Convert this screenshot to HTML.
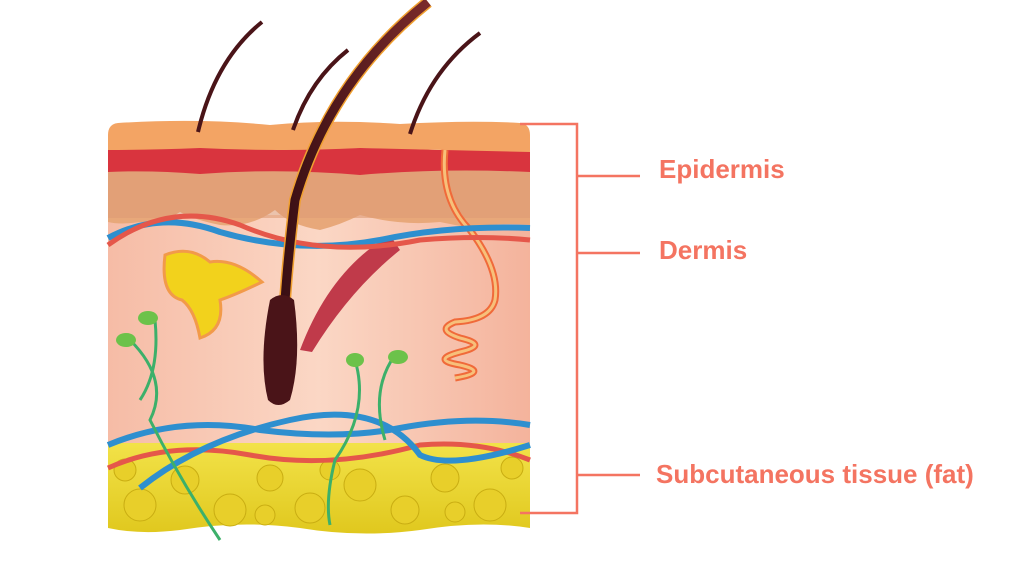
<!DOCTYPE html>
<html><head><style>
html,body{margin:0;padding:0;background:#fff;width:1024px;height:569px;overflow:hidden}
svg{display:block}
text{font-family:"Liberation Sans",sans-serif;font-weight:bold;fill:#f47461;font-size:26px}
</style></head><body>
<svg width="1024" height="569" viewBox="0 0 1024 569">
<defs>
<linearGradient id="fat" x1="0" y1="0" x2="0" y2="1"><stop offset="0" stop-color="#f3e34a"/><stop offset="1" stop-color="#e0c81e"/></linearGradient>
<linearGradient id="derm" x1="0" y1="0" x2="1" y2="0"><stop offset="0" stop-color="#f6bca6"/><stop offset="0.5" stop-color="#fbd7c5"/><stop offset="1" stop-color="#f4b39c"/></linearGradient>
<linearGradient id="hair" x1="0" y1="0" x2="1" y2="0"><stop offset="0" stop-color="#3a0f14"/><stop offset="1" stop-color="#7a2a2a"/></linearGradient>
</defs>
<path d="M108 440 L530 440 L530 528 Q480 520 420 530 Q360 538 300 528 Q240 520 180 530 Q140 535 108 528 Z" fill="url(#fat)"/>
<g fill="#e8cf2a" stroke="#c9ad12" stroke-width="1">
<circle cx="140" cy="505" r="16"/><circle cx="185" cy="480" r="14"/><circle cx="230" cy="510" r="16"/><circle cx="270" cy="478" r="13"/><circle cx="310" cy="508" r="15"/><circle cx="360" cy="485" r="16"/><circle cx="405" cy="510" r="14"/><circle cx="445" cy="478" r="14"/><circle cx="490" cy="505" r="16"/><circle cx="512" cy="468" r="11"/><circle cx="125" cy="470" r="11"/><circle cx="330" cy="470" r="10"/><circle cx="265" cy="515" r="10"/><circle cx="455" cy="512" r="10"/></g>
<rect x="108" y="215" width="422" height="228" fill="url(#derm)"/>
<path d="M108 165 L530 165 L530 225 Q500 222 470 228 L440 222 Q400 226 360 215 Q340 225 320 230 Q290 225 275 210 Q250 228 220 225 Q195 220 180 212 Q160 225 140 222 Q120 225 108 222 Z" fill="#e8a87a"/>
<path d="M108 165 L530 165 L530 218 L108 218 Z" fill="#dd9b74" opacity="0.6"/>
<path d="M108 148 Q200 144 280 150 Q360 146 440 150 Q490 145 530 148 L530 172 Q440 168 360 175 Q280 168 200 174 Q150 170 108 172 Z" fill="#d9343e"/>
<path d="M118 123 Q200 118 270 125 Q330 119 400 124 Q470 120 520 123 Q530 124 530 135 L530 152 Q440 150 360 148 Q280 152 200 148 Q150 150 108 150 L108 135 Q108 124 118 123 Z" fill="#f3a464"/>
<path d="M198 132 Q215 60 262 22" stroke="#4a1418" stroke-width="4" fill="none"/>
<path d="M293 130 Q310 80 348 50" stroke="#4a1418" stroke-width="4" fill="none"/>
<path d="M410 134 Q430 70 480 33" stroke="#4a1418" stroke-width="4" fill="none"/>
<path d="M445 150 Q440 200 470 230 Q500 270 495 300 Q490 320 455 322 Q435 330 460 338 Q490 345 460 352 Q430 360 460 365 Q490 372 455 378" stroke="#f06a3a" stroke-width="7" fill="none"/>
<path d="M445 150 Q440 200 470 230 Q500 270 495 300 Q490 320 455 322 Q435 330 460 338 Q490 345 460 352 Q430 360 460 365 Q490 372 455 378" stroke="#f7c07a" stroke-width="3" fill="none"/>
<path d="M165 255 Q190 245 210 262 Q235 258 262 282 Q235 295 220 300 Q225 330 200 338 Q195 310 182 300 Q160 295 165 255 Z" fill="#f2d21c" stroke="#f29a4a" stroke-width="3"/>
<path d="M300 350 Q330 270 390 235 L400 250 Q350 290 312 352 Z" fill="#c03a4a"/>
<path d="M108 238 Q160 210 220 232 Q300 255 380 240 Q450 225 530 228" stroke="#2e8fcf" stroke-width="6" fill="none"/>
<path d="M108 245 Q170 200 240 225 Q320 260 420 240 Q480 235 530 240" stroke="#e5574a" stroke-width="5" fill="none"/>
<path d="M428 2 Q330 80 295 200 Q285 280 283 340" stroke="#f0a030" stroke-width="12" fill="none"/>
<path d="M428 2 Q330 80 295 200 Q285 280 283 340" stroke="url(#hair)" stroke-width="9" fill="none"/>
<path d="M270 300 Q282 290 294 300 Q302 360 290 400 Q278 410 268 400 Q258 360 270 300 Z" fill="#4a1418"/>
<path d="M108 445 Q180 415 260 430 Q340 440 400 428 Q470 415 530 425" stroke="#2e8fcf" stroke-width="6" fill="none"/>
<path d="M108 468 Q170 440 250 455 Q330 470 420 445 Q480 440 530 460" stroke="#e5574a" stroke-width="5" fill="none"/>
<path d="M140 488 Q200 440 290 420 Q380 400 420 455 Q450 470 530 445" stroke="#2e8fcf" stroke-width="6" fill="none"/>
<g stroke="#3cb06a" stroke-width="3" fill="none">
<path d="M130 340 Q170 380 150 420 Q180 480 220 540"/>
<path d="M155 320 Q160 370 140 400"/>
<path d="M355 360 Q370 410 335 460 Q325 500 330 525"/>
<path d="M395 355 Q370 390 385 440"/>
</g>
<g fill="#6cc24a"><ellipse cx="126" cy="340" rx="10" ry="7"/><ellipse cx="148" cy="318" rx="10" ry="7"/><ellipse cx="355" cy="360" rx="9" ry="7"/><ellipse cx="398" cy="357" rx="10" ry="7"/></g>
<g stroke="#f47461" stroke-width="2.5" fill="none">
<path d="M520 124 H577 V513 H520"/>
<path d="M577 176 H640"/><path d="M577 253 H640"/><path d="M577 475 H640"/>
</g>
<text x="659" y="178">Epidermis</text>
<text x="659" y="259">Dermis</text>
<text x="656" y="483">Subcutaneous tissue (fat)</text>
</svg>
</body></html>
